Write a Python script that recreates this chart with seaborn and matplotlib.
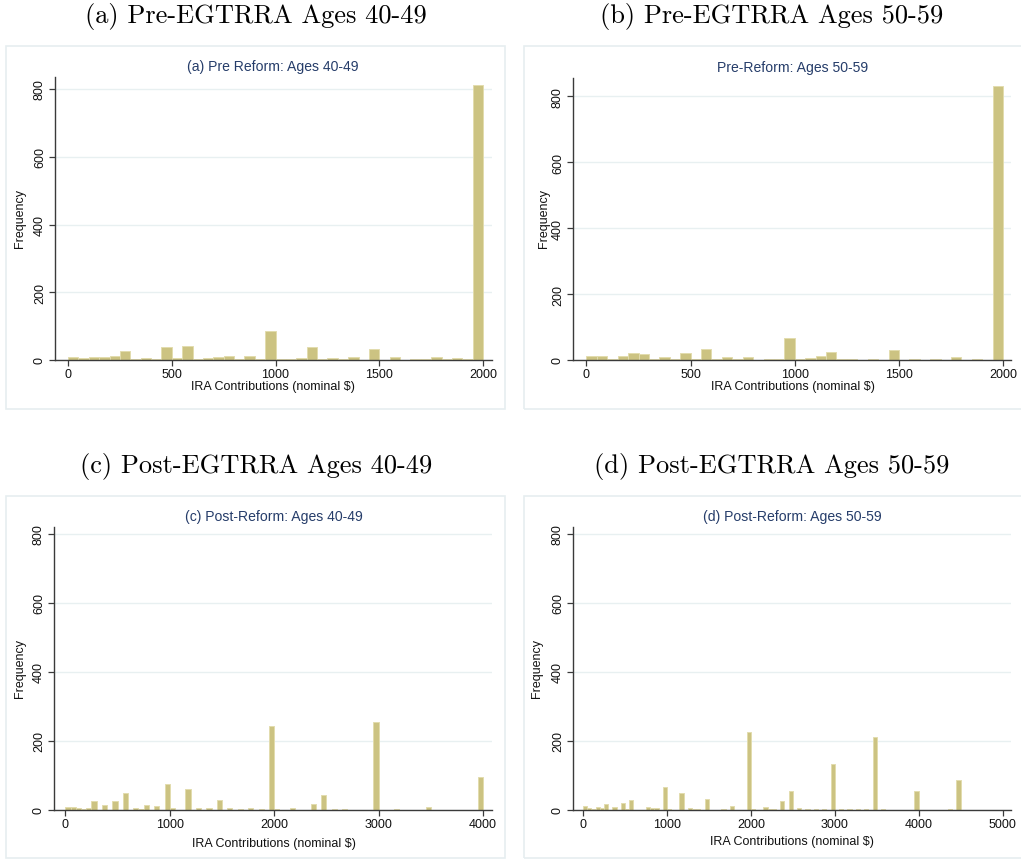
import numpy as np
import pandas as pd
import matplotlib
matplotlib.use("Agg")
import matplotlib.pyplot as plt
from matplotlib.patches import Rectangle
import seaborn as sns

sns.set_theme(style="white")
plt.rcParams["font.family"] = ["Liberation Sans", "DejaVu Sans"]

# ---- data: IRA contribution histograms, $50 bins starting at 0 ----
BIN_WIDTH = 50

freq_pre_4049 = [
    10, 5, 8, 8, 11, 26, 4, 7, 2, 37,
    5, 40, 4, 7, 9, 13, 4, 11, 2, 85,
    2, 2, 5, 39, 3, 7, 2, 8, 1, 33,
    1, 10, 1, 4, 2, 10, 2, 6, 2, 812,
]
freq_pre_5059 = [
    13, 11, 2, 12, 20, 17, 2, 10, 2, 22,
    2, 32, 3, 10, 2, 8, 1, 4, 4, 67,
    2, 7, 11, 24, 3, 4, 1, 4, 1, 29,
    1, 4, 1, 4, 1, 8, 1, 2, 1, 831,
]
freq_post_4049 = [
    10, 8, 7, 4, 7, 27, 0, 14, 0, 27,
    0, 48, 0, 7, 4, 15, 0, 12, 0, 75,
    7, 0, 0, 62, 0, 7, 0, 7, 0, 28,
    0, 6, 0, 3, 0, 7, 0, 4, 0, 244,
    2, 0, 0, 5, 0, 0, 0, 16, 0, 43,
    0, 2, 0, 3, 0, 0, 0, 1, 0, 255,
    0, 0, 0, 2, 0, 0, 0, 0, 0, 10,
    0, 0, 0, 1, 0, 1, 0, 0, 0, 97,
]
freq_post_5059 = [
    13, 5, 4, 10, 5, 18, 1, 10, 0, 21,
    4, 30, 0, 0, 0, 10, 5, 7, 0, 67,
    3, 0, 0, 49, 0, 7, 4, 4, 0, 32,
    0, 0, 0, 2, 0, 13, 0, 0, 0, 226,
    2, 0, 0, 10, 4, 4, 0, 27, 0, 54,
    0, 6, 0, 2, 0, 3, 0, 2, 0, 133,
    0, 2, 0, 2, 0, 2, 0, 2, 0, 212,
    0, 3, 0, 1, 0, 0, 0, 0, 0, 55,
    0, 0, 0, 0, 0, 0, 0, 2, 0, 87,
    0, 0, 0, 0, 0, 0, 0, 0, 0, 0,
]

captions = [
    "(a) Pre-EGTRRA Ages 40-49",
    "(b) Pre-EGTRRA Ages 50-59",
    "(c) Post-EGTRRA Ages 40-49",
    "(d) Post-EGTRRA Ages 50-59",
]
titles = [
    "(a) Pre Reform: Ages 40-49",
    "Pre-Reform: Ages 50-59",
    "(c) Post-Reform: Ages 40-49",
    "(d) Post-Reform: Ages 50-59",
]
x_ticks = [
    [0, 500, 1000, 1500, 2000],
    [0, 500, 1000, 1500, 2000],
    [0, 1000, 2000, 3000, 4000],
    [0, 1000, 2000, 3000, 4000, 5000],
]
y_ticks = [0, 200, 400, 600, 800]
x_label = "IRA Contributions (nominal $)"
y_label = "Frequency"

# ---- layout (pixel geometry of the 1021 x 862 canvas) ----
W, H = 1021, 862
BAR_FACE = "#CCC382"
BAR_EDGE = "#E2DCAE"
TITLE_COLOR = "#263D6A"
FRAME_COLOR = "#E6EEF0"
GRID_COLOR = "#E8F0F1"
AXIS_COLOR = "#3A3A3A"

panels = [
    dict(freq=freq_pre_4049, frame=(6, 47, 505, 410), ax=(55, 78, 492, 361),
         xlim=(-62.7, 2043), ylim=(0, 835.5), cap=(256, 16), title=(273, 67),
         ylab=(20, 218), xlab=(273, 387)),
    dict(freq=freq_pre_5059, frame=(524, 47, 1030, 410), ax=(573, 79, 1011, 361),
         xlim=(-64.4, 2038), ylim=(0, 855), cap=(772, 16), title=(793, 68),
         ylab=(544, 218), xlab=(793, 387)),
    dict(freq=freq_post_4049, frame=(6, 497, 505, 859), ax=(54, 528, 492, 811),
         xlim=(-109, 4086), ylim=(0, 819.5), cap=(256, 466), title=(274, 517),
         ylab=(20, 668), xlab=(274, 844)),
    dict(freq=freq_post_5059, frame=(524, 497, 1030, 859), ax=(573, 528, 1011, 811),
         xlim=(-119, 5100), ylim=(0, 819.5), cap=(772, 466), title=(792, 517),
         ylab=(537, 668), xlab=(792, 842)),
]


def fx(x):
    return x / W


def fy(y):
    return 1 - y / H


fig = plt.figure(figsize=(W / 100, H / 100), dpi=100)
fig.patch.set_facecolor("white")

for i, p in enumerate(panels):
    x0, y0, x1, y1 = p["frame"]
    fig.patches.append(Rectangle((fx(x0), fy(y1)), fx(x1) - fx(x0), fy(y0) - fy(y1),
                                 transform=fig.transFigure, facecolor="none",
                                 edgecolor=FRAME_COLOR, linewidth=1.2, zorder=-10))

    a0, b0, a1, b1 = p["ax"]
    ax = fig.add_axes([fx(a0), fy(b1), fx(a1) - fx(a0), fy(b0) - fy(b1)])
    ax.set_facecolor("none")

    freq = list(p["freq"])
    upper = BIN_WIDTH * len(freq)
    mids = [BIN_WIDTH * (k + 0.5) for k in range(len(freq))]
    df = pd.DataFrame({"contribution": mids, "count": freq})
    sns.histplot(data=df, x="contribution", weights="count",
                 binwidth=BIN_WIDTH, binrange=(0, upper), ax=ax,
                 color=BAR_FACE, alpha=1, edgecolor=BAR_EDGE, linewidth=0.7)

    ax.set_xlim(*p["xlim"])
    ax.set_ylim(*p["ylim"])
    ax.set_xticks(x_ticks[i])
    ax.set_yticks(y_ticks)
    ax.set_xlabel("")
    ax.set_ylabel("")
    ax.yaxis.grid(True, color=GRID_COLOR, linewidth=1.0)
    ax.xaxis.grid(False)
    ax.set_axisbelow(True)
    for side in ("top", "right"):
        ax.spines[side].set_visible(False)
    for side in ("left", "bottom"):
        ax.spines[side].set_color(AXIS_COLOR)
        ax.spines[side].set_linewidth(1.0)
    ax.tick_params(axis="both", direction="out", length=4, width=0.9,
                   color=AXIS_COLOR, labelsize=9, labelcolor="#111111")
    ax.tick_params(axis="x", pad=2)
    ax.tick_params(axis="y", pad=2.5)
    ax.tick_params(left=True, bottom=True)
    for lab in ax.get_yticklabels():
        lab.set_rotation(90)
        lab.set_va("center")
        lab.set_ha("right")

    fig.text(fx(p["title"][0]), fy(p["title"][1]), titles[i], ha="center",
             va="center", fontsize=10.1, color=TITLE_COLOR)
    fig.text(fx(p["xlab"][0]), fy(p["xlab"][1]), x_label, ha="center",
             va="center", fontsize=9, color="#111111")
    fig.text(fx(p["ylab"][0]), fy(p["ylab"][1]), y_label, ha="center",
             va="center", rotation=90, fontsize=9, color="#111111")
    fig.text(fx(p["cap"][0]), fy(p["cap"][1]), captions[i], ha="center",
             va="center", fontsize=19, family=["cmr10", "DejaVu Serif"],
             color="black")

fig.savefig("out.png", dpi=100, facecolor="white")
